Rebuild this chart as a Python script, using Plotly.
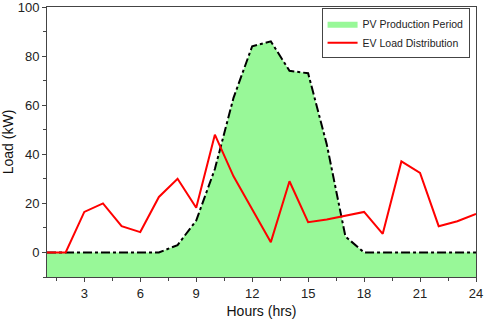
import plotly.graph_objects as go

hours = list(range(1, 25))
pv_production = [0, 0, 0, 0, 0, 0, 0, 3, 13, 34, 63, 84, 86, 74, 73, 44, 6.5, 0, 0, 0, 0, 0, 0, 0]
ev_load = [0, 0, 16.5, 20, 10.7, 8.3, 22.6, 30, 18.2, 48, 31, 17.6, 4.2, 29, 12.3, 13.4, 14.8, 16.5, 7.6, 37.1, 32.4, 10.7, 12.7, 15.7]
x_ticks = [3, 6, 9, 12, 15, 18, 21, 24]
y_ticks = [0, 20, 40, 60, 80, 100]
y_min, y_max = -10, 100

FONT = "Liberation Sans, Arial, sans-serif"
GREEN = "#98F898"

fig = go.Figure()
# baseline for fill (bottom of axis)
fig.add_trace(go.Scatter(x=hours, y=[y_min] * len(hours), mode="lines",
                         line=dict(width=0), showlegend=False, hoverinfo="skip"))
fig.add_trace(go.Scatter(x=hours, y=pv_production, mode="lines", fill="tonexty",
                         fillcolor=GREEN, line=dict(width=0, color=GREEN),
                         name="PV Production Period"))
fig.add_trace(go.Scatter(x=hours, y=pv_production, mode="lines",
                         line=dict(color="black", width=2, dash="dashdot"),
                         showlegend=False))
fig.add_trace(go.Scatter(x=hours, y=ev_load, mode="lines",
                         line=dict(color="#FF0000", width=2),
                         name="EV Load Distribution"))

axis_common = dict(showline=True, linecolor="#444444", linewidth=1, mirror=True,
                   ticks="outside", ticklen=4, tickcolor="#444444", showgrid=False,
                   zeroline=False, automargin=False, ticklabeloverflow="allow",
                   tickfont=dict(family=FONT, size=13, color="#222222"))

fig.update_xaxes(range=[1, 24], tickvals=x_ticks,
                 title=dict(text="Hours (hrs)", font=dict(family=FONT, size=14, color="#111111"), standoff=6),
                 minor=dict(ticks="outside", ticklen=3, tickcolor="#444444", dtick=3, tick0=1.5),
                 **axis_common)
fig.update_yaxes(range=[y_min, y_max], tickvals=y_ticks,
                 title=dict(text="Load (kW)", font=dict(family=FONT, size=14, color="#111111"), standoff=6),
                 minor=dict(ticks="outside", ticklen=3, tickcolor="#444444", dtick=10, tick0=0),
                 **axis_common)

fig.update_layout(
    width=484, height=322,
    margin=dict(l=47, r=8, t=7, b=45, autoexpand=False),
    plot_bgcolor="white", paper_bgcolor="white",
    font=dict(family=FONT, size=12, color="#222222"),
    legend=dict(x=0.985, y=0.995, xanchor="right", yanchor="top",
                bgcolor="white", bordercolor="#444444", borderwidth=1,
                font=dict(family=FONT, size=10.5), itemwidth=30,
                traceorder="normal", tracegroupgap=0),
)

fig.write_html("out.html", config={"displayModeBar": False},
               post_script="document.body.style.margin='0';document.body.style.padding='0';")
